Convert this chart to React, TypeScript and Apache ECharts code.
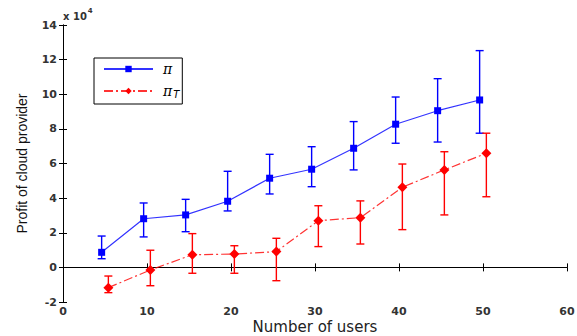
import React, { useEffect, useRef } from "react";
import * as echarts from "echarts";

// x positions (number of users, with the small plotting offsets seen in the figure)
const piX = [4.6, 9.6, 14.6, 19.6, 24.6, 29.6, 34.6, 39.6, 44.6, 49.6];
const piTX = [5.4, 10.4, 15.4, 20.4, 25.4, 30.4, 35.4, 40.4, 45.4, 50.4];

// profit values, in units of 10^4
const pi = [0.87, 2.81, 3.03, 3.82, 5.15, 5.67, 6.88, 8.27, 9.05, 9.67];
const piLow = [0.5, 1.76, 2.06, 3.26, 4.24, 4.66, 5.63, 7.17, 7.24, 7.75];
const piHigh = [1.81, 3.72, 3.93, 5.55, 6.53, 6.97, 8.42, 9.84, 10.9, 12.52];

const piT = [-1.17, -0.15, 0.73, 0.77, 0.91, 2.7, 2.87, 4.63, 5.63, 6.59];
const piTLow = [-1.46, -1.06, -0.34, -0.34, -0.77, 1.2, 1.35, 2.18, 3.03, 4.08];
const piTHigh = [-0.5, 0.99, 1.95, 1.25, 1.68, 3.56, 3.84, 5.97, 6.68, 7.75];

const xTicks = { min: 0, max: 60, interval: 10 };
const yTicks = { min: -2, max: 14, interval: 2 };

const BLUE = "#0000ff";
const RED = "#ff0000";
const tickFont = { fontFamily: "DejaVu Sans", fontSize: 11, fontWeight: "bold" as const, color: "#333", lineHeight: 10 };

function errorBarSeries(xs: number[], lo: number[], hi: number[], color: string) {
  return {
    type: "custom",
    silent: true,
    z: 3,
    data: xs.map((x, i) => [x, lo[i], hi[i]]),
    encode: { x: 0, y: [1, 2] },
    renderItem: (params: any, api: any) => {
      const x = api.value(0);
      const a = api.coord([x, api.value(1)]);
      const b = api.coord([x, api.value(2)]);
      const w = 4;
      const style = { stroke: color, lineWidth: 1.4 };
      return {
        type: "group",
        children: [
          { type: "line", shape: { x1: a[0], y1: a[1], x2: b[0], y2: b[1] }, style },
          { type: "line", shape: { x1: a[0] - w, y1: a[1], x2: a[0] + w, y2: a[1] }, style },
          { type: "line", shape: { x1: b[0] - w, y1: b[1], x2: b[0] + w, y2: b[1] }, style },
        ],
      };
    },
  };
}

export default function App() {
  const ref = useRef<HTMLDivElement>(null);
  useEffect(() => {
    if (!ref.current) return;
    const chart = echarts.init(ref.current, undefined, { renderer: "svg" });
    const axisLine = { show: true, lineStyle: { color: "#000", width: 1 } };
    const axisTick = { show: true, inside: true, length: 4, lineStyle: { color: "#000" } };
    chart.setOption({
      animation: false,
      backgroundColor: "#fff",
      grid: { left: 63, right: 10, top: 25, bottom: 34, outerBoundsMode: "none", containLabel: false },
      legend: {
        left: 94,
        top: 58,
        orient: "vertical",
        backgroundColor: "#fff",
        borderColor: "#000",
        borderWidth: 1,
        borderRadius: 0,
        padding: [4, 3, 5, 9],
        itemWidth: 49,
        itemHeight: 8,
        itemGap: 7,
        data: ["pi", "piT"],
        formatter: (name: string) => (name === "pi" ? "{p|π}" : "{p|π}{s|T}"),
        textStyle: {
          padding: [0, 0, 0, 5],
          rich: {
            p: { fontFamily: "DejaVu Serif", fontSize: 14, fontStyle: "italic", color: "#000", lineHeight: 16 },
            s: { fontFamily: "DejaVu Sans", fontSize: 10, fontStyle: "italic", color: "#000", verticalAlign: "bottom", lineHeight: 16, padding: [6, 0, 0, 1] },
          },
        },
      },
      xAxis: [
        {
          type: "value",
          ...xTicks,
          position: "bottom",
          axisLine,
          axisTick,
          splitLine: { show: false },
          axisLabel: { ...tickFont, margin: 4 },
          name: "Number of users",
          nameLocation: "middle",
          nameGap: 18,
          nameMoveOverlap: false,
          nameTextStyle: { fontFamily: "DejaVu Sans", fontSize: 15, lineHeight: 14, color: "#222", verticalAlign: "top" },
        },
        {
          type: "value",
          ...xTicks,
          position: "top",
          axisLine,
          axisTick,
          splitLine: { show: false },
          axisLabel: { show: false },
        },
      ],
      yAxis: [
        {
          type: "value",
          ...yTicks,
          position: "left",
          axisLine,
          axisTick,
          splitLine: { show: false },
          axisLabel: { ...tickFont, margin: 6 },
          name: "Profit of cloud provider",
          nameLocation: "middle",
          nameGap: 34,
          nameMoveOverlap: false,
          nameRotate: 90,
          nameTextStyle: { fontFamily: "Liberation Sans", fontSize: 14, color: "#111" },
        },
        {
          type: "value",
          ...yTicks,
          position: "right",
          axisLine,
          axisTick,
          splitLine: { show: false },
          axisLabel: { show: false },
        },
      ],
      graphic: [
        {
          type: "text",
          left: 63,
          top: 7,
          style: {
            text: "{a|x 10}{b|4}",
            rich: {
              a: { fontFamily: "DejaVu Sans", fontSize: 10, fontWeight: "bold", fill: "#333", verticalAlign: "bottom", lineHeight: 14 },
              b: { fontFamily: "DejaVu Sans", fontSize: 7, fontWeight: "bold", fill: "#333", verticalAlign: "top", lineHeight: 14, padding: [0, 0, 6, 1] },
            },
          },
        },
      ],
      series: [
        errorBarSeries(piX, piLow, piHigh, BLUE),
        errorBarSeries(piTX, piTLow, piTHigh, RED),
        {
          name: "pi",
          type: "line",
          z: 4,
          data: piX.map((x, i) => [x, pi[i]]),
          symbol: "rect",
          symbolSize: 7,
          itemStyle: { color: BLUE },
          lineStyle: { color: BLUE, width: 1.2, opacity: 0.8 },
        },
        {
          name: "piT",
          type: "line",
          z: 4,
          data: piTX.map((x, i) => [x, piT[i]]),
          symbol: "diamond",
          symbolSize: 10,
          itemStyle: { color: RED },
          lineStyle: { color: RED, width: 1.2, opacity: 0.8, type: [9, 3, 2, 3] },
        },
      ],
    });
    return () => chart.dispose();
  }, []);
  return <div ref={ref} style={{ position: "fixed", left: 0, top: 0, width: 577, height: 336 }} />;
}
